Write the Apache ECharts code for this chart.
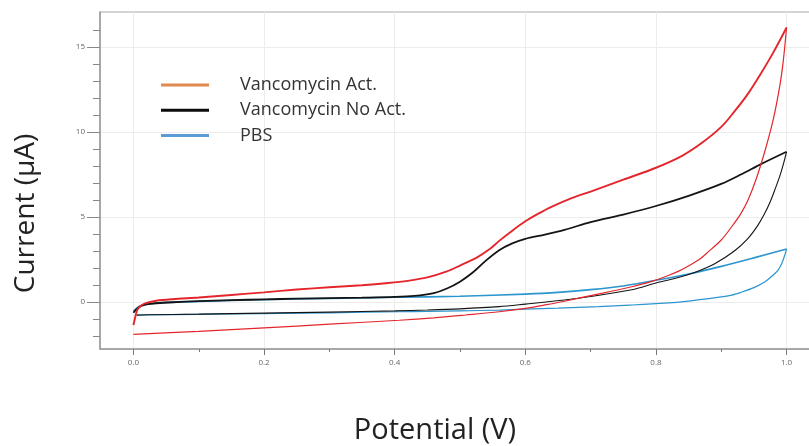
<!DOCTYPE html>
<html>
<head>
<meta charset="utf-8">
<script src="https://cdn.jsdelivr.net/npm/echarts@6/dist/echarts.min.js"></script>
<style>
  html, body { margin: 0; padding: 0; background: #fff; }
  #chart { width: 809px; height: 446px; }
</style>
</head>
<body>
<div id="chart"></div>
<script>
// ---- Data (potential V, current µA) ----
const seriesNames = ['Vancomycin Act.', 'Vancomycin No Act.', 'PBS'];

const actForward = [
  [0.000, -1.35], [0.003, -0.85], [0.006, -0.45], [0.012, -0.20], [0.020, -0.05],
  [0.035, 0.08], [0.060, 0.17], [0.100, 0.27], [0.150, 0.42], [0.200, 0.57],
  [0.250, 0.74], [0.300, 0.87], [0.350, 0.99], [0.390, 1.12], [0.420, 1.25],
  [0.450, 1.45], [0.480, 1.80], [0.500, 2.15], [0.525, 2.60], [0.545, 3.10],
  [0.560, 3.60], [0.580, 4.20], [0.600, 4.75], [0.620, 5.20], [0.640, 5.60],
  [0.670, 6.10], [0.700, 6.50], [0.750, 7.20], [0.800, 7.90], [0.840, 8.60],
  [0.870, 9.35], [0.900, 10.30], [0.920, 11.20], [0.940, 12.20], [0.960, 13.40],
  [0.980, 14.70], [1.000, 16.15]
];
const actReverse = [
  [1.000, 16.15], [0.995, 14.20], [0.990, 12.80], [0.980, 10.80], [0.967, 8.90],
  [0.954, 7.30], [0.941, 6.00], [0.930, 5.20], [0.916, 4.43], [0.900, 3.65],
  [0.880, 2.95], [0.865, 2.47], [0.840, 1.92], [0.814, 1.49], [0.790, 1.17],
  [0.763, 0.90], [0.730, 0.62], [0.700, 0.38], [0.660, 0.05], [0.630, -0.17],
  [0.600, -0.37], [0.560, -0.57], [0.509, -0.76], [0.460, -0.93], [0.407, -1.07],
  [0.300, -1.30], [0.200, -1.52], [0.100, -1.72], [0.000, -1.90]
];

const noActForward = [
  [0.000, -0.63], [0.004, -0.45], [0.010, -0.26], [0.020, -0.14], [0.035, -0.07],
  [0.060, -0.01], [0.100, 0.05], [0.150, 0.11], [0.200, 0.16], [0.250, 0.20],
  [0.300, 0.23], [0.350, 0.26], [0.400, 0.30], [0.430, 0.36], [0.460, 0.53],
  [0.480, 0.80], [0.500, 1.20], [0.520, 1.75], [0.540, 2.45], [0.560, 3.05],
  [0.580, 3.45], [0.600, 3.72], [0.630, 3.97], [0.660, 4.25], [0.700, 4.70],
  [0.750, 5.15], [0.800, 5.65], [0.850, 6.25], [0.900, 6.95], [0.930, 7.50],
  [0.960, 8.10], [1.000, 8.84]
];
const noActReverse = [
  [1.000, 8.84], [0.995, 8.10], [0.990, 7.45], [0.983, 6.70], [0.975, 5.90],
  [0.965, 5.10], [0.955, 4.45], [0.940, 3.70], [0.920, 3.00], [0.890, 2.25],
  [0.860, 1.75], [0.830, 1.40], [0.800, 1.12], [0.763, 0.72], [0.700, 0.33],
  [0.660, 0.12], [0.600, -0.12], [0.560, -0.27], [0.500, -0.40], [0.450, -0.47],
  [0.400, -0.52], [0.300, -0.59], [0.200, -0.65], [0.100, -0.71], [0.020, -0.75],
  [0.005, -0.77]
];

const pbsForward = [
  [0.000, -0.55], [0.005, -0.35], [0.012, -0.20], [0.025, -0.10], [0.050, -0.02],
  [0.100, 0.04], [0.200, 0.14], [0.300, 0.21], [0.400, 0.28], [0.500, 0.34],
  [0.600, 0.47], [0.650, 0.57], [0.700, 0.73], [0.750, 0.95], [0.800, 1.28],
  [0.850, 1.65], [0.900, 2.10], [0.950, 2.60], [1.000, 3.12]
];
const pbsReverse = [
  [1.000, 3.12], [0.998, 2.85], [0.993, 2.30], [0.987, 1.88], [0.977, 1.50],
  [0.967, 1.20], [0.950, 0.85], [0.930, 0.57], [0.916, 0.41], [0.880, 0.20],
  [0.850, 0.06], [0.814, -0.06], [0.760, -0.18], [0.712, -0.27], [0.650, -0.36],
  [0.600, -0.42], [0.560, -0.47], [0.500, -0.52], [0.450, -0.55], [0.407, -0.57],
  [0.300, -0.63], [0.200, -0.68], [0.100, -0.72], [0.020, -0.76], [0.005, -0.77]
];

// ---- Axis ticks / labels ----
const xLabelValues = [0, 0.2, 0.4, 0.6, 0.8, 1.0];
const xMinorTicks = [0, 0.1, 0.2, 0.3, 0.4, 0.5, 0.6, 0.7, 0.8, 0.9, 1.0];
const yLabelValues = [0, 5, 10, 15];
const yMinorTicks = [-2, -1, 0, 1, 2, 3, 4, 5, 6, 7, 8, 9, 10, 11, 12, 13, 14, 15, 16];
const xRange = [-0.0512, 1.042];
const yRange = [-2.76, 17.06];

// ---- Styles ----
const lineColors = ['#e4262c', '#141414', '#2b95cf'];
const legendColors = ['#df8a4f', '#0d0d0d', '#5b9bd5'];
const axisGrey = '#9a9a9a';
const FONT = 'Open Sans';

const chart = echarts.init(document.getElementById('chart'), null, { renderer: 'canvas' });

function mkSeries(name, data, color, width, z) {
  return {
    name: name, type: 'line', data: data,
    xAxisIndex: 0, yAxisIndex: 0,
    showSymbol: false, symbol: 'none',
    smooth: 0.3,
    lineStyle: { color: color, width: width },
    itemStyle: { color: color },
    z: z, animation: false
  };
}

const option = {
  animation: false,
  backgroundColor: '#ffffff',
  grid: {
    left: 100, top: 12, right: -5, bottom: 97,
    containLabel: false, outerBoundsMode: 'none',
    show: true, borderColor: '#a8a8a8', borderWidth: 1
  },
  legend: {
    orient: 'vertical',
    left: 156, top: 71,
    itemWidth: 48, itemHeight: 3, itemGap: 7.2,
    icon: 'rect',
    textStyle: { fontFamily: FONT, fontSize: 18, color: '#333', lineHeight: 18, padding: [0, 0, 0, 26] },
    data: seriesNames.map((n, i) => ({ name: n, itemStyle: { color: legendColors[i] } }))
  },
  xAxis: [
    {
      type: 'value', min: xRange[0], max: xRange[1], position: 'bottom',
      name: 'Potential (V)', nameLocation: 'middle', nameGap: 67,
      nameTextStyle: { fontFamily: FONT, fontSize: 29, color: '#222', padding: [0, 44, 0, 0] },
      axisLine: { show: true, onZero: false, lineStyle: { color: axisGrey, width: 1.5 } },
      axisTick: { show: true, customValues: xMinorTicks, length: 3, lineStyle: { color: '#777' } },
      axisLabel: {
        show: true, customValues: xLabelValues, margin: 10,
        fontFamily: FONT, fontSize: 8, color: '#666',
        formatter: v => v.toFixed(1)
      },
      splitLine: { show: false }
    },
    {
      type: 'value', min: xRange[0], max: xRange[1], position: 'bottom',
      axisLine: { show: false, onZero: false },
      axisTick: { show: true, customValues: xLabelValues, length: 6, lineStyle: { color: '#777' } },
      axisLabel: { show: false },
      splitLine: { show: true, lineStyle: { color: '#ececec', width: 1 } }
    }
  ],
  yAxis: [
    {
      type: 'value', min: yRange[0], max: yRange[1], position: 'left',
      name: 'Current (µA)', nameLocation: 'middle', nameGap: 60,
      nameTextStyle: { fontFamily: FONT, fontSize: 28, color: '#222', padding: [0, 66, 0, 0] },
      axisLine: { show: true, onZero: false, lineStyle: { color: axisGrey, width: 1.5 } },
      axisTick: { show: true, customValues: yMinorTicks, length: 7, lineStyle: { color: '#888' } },
      axisLabel: { show: false },
      splitLine: { show: false }
    },
    {
      type: 'value', min: yRange[0], max: yRange[1], position: 'left',
      axisLine: { show: false, onZero: false },
      axisTick: { show: true, customValues: yLabelValues, length: 13, lineStyle: { color: '#888' } },
      axisLabel: {
        show: true, customValues: yLabelValues, margin: 15,
        fontFamily: FONT, fontSize: 8, color: '#666', padding: [0, 0, 5, 0],
        formatter: v => String(v)
      },
      splitLine: { show: true, lineStyle: { color: '#ececec', width: 1 } }
    }
  ],
  series: [
    mkSeries(seriesNames[2], pbsForward, lineColors[2], 1.6, 2),
    mkSeries(seriesNames[2], pbsReverse, lineColors[2], 1.2, 2),
    mkSeries(seriesNames[1], noActForward, lineColors[1], 1.8, 3),
    mkSeries(seriesNames[1], noActReverse, lineColors[1], 1.1, 3),
    mkSeries(seriesNames[0], actForward, lineColors[0], 1.9, 4),
    mkSeries(seriesNames[0], actReverse, lineColors[0], 1.2, 4)
  ]
};

chart.setOption(option);
</script>
</body>
</html>
